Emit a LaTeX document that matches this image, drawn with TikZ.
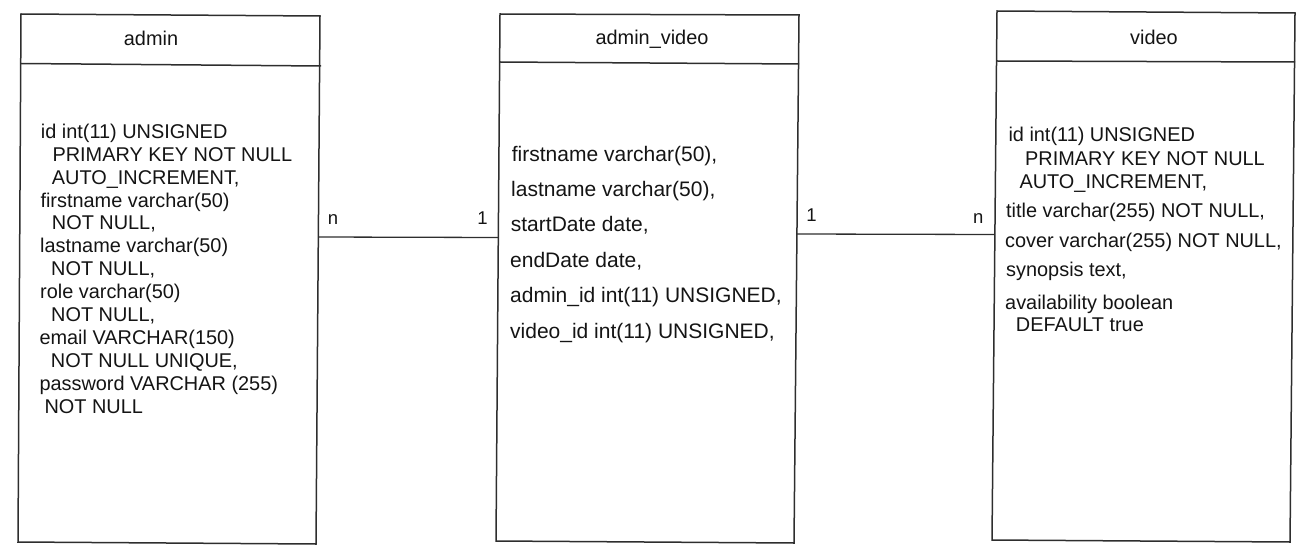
\documentclass[tikz,border=0pt]{standalone}
\usepackage{fontspec}
\setmainfont{Liberation Sans}
\usetikzlibrary{calc}
\tikzset{
  boxline/.style={draw=black!82, line width=1.5pt, line join=miter},
  conn/.style={draw=black!82, line width=1.3pt},
  body/.style={anchor=base west, inner sep=0pt, text=black!92, font=\fontsize{19.9}{22.9}\selectfont},
  bodybig/.style={anchor=base west, inner sep=0pt, text=black!92, font=\fontsize{21}{24}\selectfont},
  title/.style={anchor=base, inner sep=0pt, text=black!92, font=\fontsize{19.9}{22.9}\selectfont},
  card/.style={anchor=base, inner sep=0pt, text=black!92, font=\fontsize{18.5}{21}\selectfont}
}
\begin{document}
\begin{tikzpicture}[x=1pt,y=-1pt]
\useasboundingbox (0,0) rectangle (1313,556);
% ---------- admin box ----------
\coordinate (a-tl) at (21,14);
\coordinate (a-tr) at (320,16);
\coordinate (a-br) at (316,544);
\coordinate (a-bl) at (18,542);
\coordinate (a-hl) at (21,63.5);
\coordinate (a-hr) at (321,66);
\draw[boxline] (a-tl) -- (a-tr) -- (a-br) -- (a-bl) -- cycle;
\draw[boxline] (a-hl) -- (a-hr);
% ---------- admin_video box ----------
\coordinate (av-tl) at (500,14);
\coordinate (av-tr) at (799,15);
\coordinate (av-br) at (794,543);
\coordinate (av-bl) at (496,541);
\coordinate (av-hl) at (500,62);
\coordinate (av-hr) at (799,64);
\draw[boxline] (av-tl) -- (av-tr) -- (av-br) -- (av-bl) -- cycle;
\draw[boxline] (av-hl) -- (av-hr);
% ---------- video box ----------
\coordinate (v-tl) at (997,11);
\coordinate (v-tr) at (1295,13);
\coordinate (v-br) at (1290,542);
\coordinate (v-bl) at (992,540);
\coordinate (v-hl) at (997,61);
\coordinate (v-hr) at (1295,62);
\draw[boxline] (v-tl) -- (v-tr) -- (v-br) -- (v-bl) -- cycle;
\draw[boxline] (v-hl) -- (v-hr);
% ---------- titles ----------
\node[title] (t-admin) at (151,46) {admin};
\node[title] (t-av) at (652,45) {admin\_video};
\node[title] (t-video) at (1154,44.3) {video};
% ---------- admin body ----------
\node[body] (a1) at (40.7,138.1) {id int(11) UNSIGNED};
\node[body] (a2) at (52.3,161.0) {PRIMARY KEY NOT NULL};
\node[body] (a3) at (51.7,184.0) {AUTO\_INCREMENT,};
\node[body] (a4) at (40.3,207.0) {firstname varchar(50)};
\node[body] (a5) at (51.7,229.9) {NOT NULL,};
\node[body] (a6) at (40.0,252.9) {lastname varchar(50)};
\node[body] (a7) at (51.0,275.8) {NOT NULL,};
\node[body] (a8) at (40.0,298.8) {role varchar(50)};
\node[body] (a9) at (51.0,321.7) {NOT NULL,};
\node[body] (a10) at (39.3,344.7) {email VARCHAR(150)};
\node[body] (a11) at (50.7,367.6) {NOT NULL UNIQUE,};
\node[body] (a12) at (39.3,390.6) {password VARCHAR (255)};
\node[body] (a13) at (44.3,413.5) {NOT NULL};
% ---------- admin_video body ----------
\node[bodybig] (av1) at (511.7,161.2) {firstname varchar(50),};
\node[bodybig] (av2) at (511.0,196.1) {lastname varchar(50),};
\node[bodybig] (av3) at (510.7,231.5) {startDate date,};
\node[bodybig] (av4) at (510.0,267.5) {endDate date,};
\node[bodybig] (av5) at (510.0,302.5) {admin\_id int(11) UNSIGNED,};
\node[bodybig] (av6) at (510.0,338.5) {video\_id int(11) UNSIGNED,};
% ---------- video body ----------
\node[body] (v1) at (1008.3,141.9) {id int(11) UNSIGNED};
\node[body] (v2) at (1025.0,166.0) {PRIMARY KEY NOT NULL};
\node[body] (v3) at (1019.3,188.7) {AUTO\_INCREMENT,};
\node[body] (v4) at (1006.0,217.1) {title varchar(255) NOT NULL,};
\node[body] (v5) at (1005.0,247.5) {cover varchar(255) NOT NULL,};
\node[body] (v6) at (1006.0,276.6) {synopsis text,};
\node[body] (v7) at (1005.0,309.6) {availability boolean};
\node[body] (v8) at (1015.7,331.6) {DEFAULT true};
% ---------- connectors ----------
\coordinate (a-east) at (318.3,237);
\coordinate (av-west) at (498.3,237.5);
\coordinate (av-east) at (796.9,234);
\coordinate (v-west) at (994.9,234.5);
\draw[conn] (a-east) -- (av-west);
\draw[conn] (av-east) -- (v-west);
\node[card] (l1) at (333,224.5) {n};
\node[card] (l2) at (482.5,224.7) {1};
\node[card] (l3) at (811.5,221) {1};
\node[card] (l4) at (978.3,223) {n};
\end{tikzpicture}
\end{document}
